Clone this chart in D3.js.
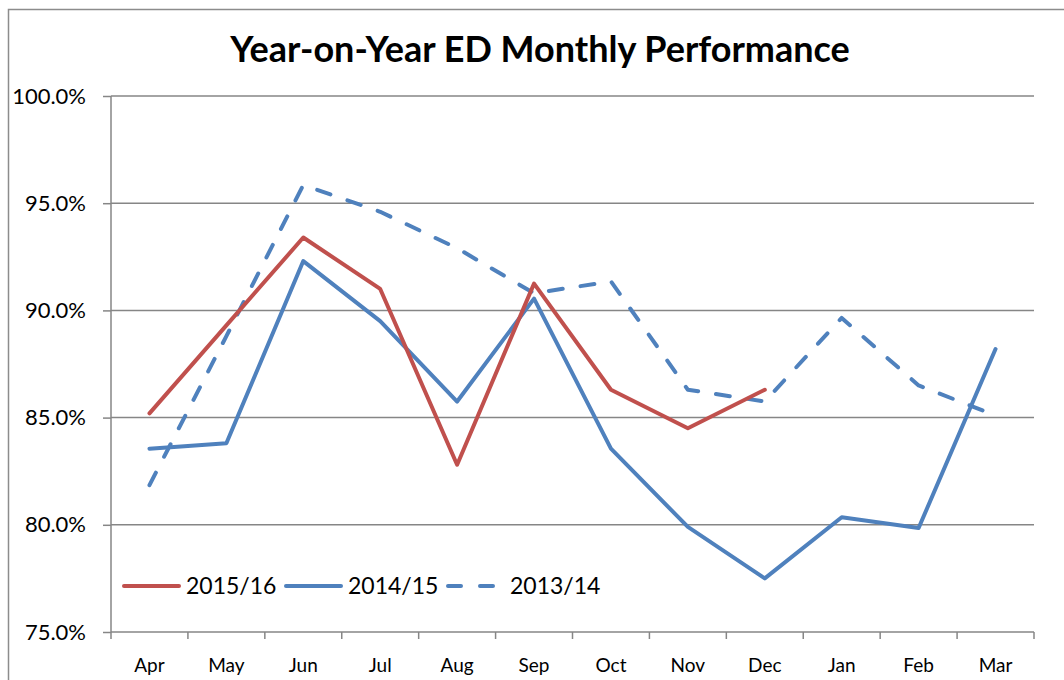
<!DOCTYPE html>
<html>
<head>
<meta charset="utf-8">
<script src="https://cdn.jsdelivr.net/npm/d3@7"></script>
<style>
  body { margin: 0; background: #fff; }
  svg { font-family: Lato, "Open Sans", sans-serif; }
</style>
</head>
<body>
<div id="chart"></div>
<script>
const months = ["Apr", "May", "Jun", "Jul", "Aug", "Sep", "Oct", "Nov", "Dec", "Jan", "Feb", "Mar"];
const fy1516 = [85.2, 89.3, 93.4, 91.0, 82.8, 91.25, 86.3, 84.5, 86.3];
const fy1415 = [83.55, 83.8, 92.3, 89.5, 85.75, 90.55, 83.55, 79.9, 77.5, 80.35, 79.85, 88.2];
const fy1314 = [81.85, 88.8, 95.85, 94.6, 92.9, 90.8, 91.35, 86.3, 85.75, 89.65, 86.5, 85.1];
const yTicks = [75, 80, 85, 90, 95, 100];
const seriesNames = ["2015/16", "2014/15", "2013/14"];

const W = 1064, H = 680;
const margin = { top: 96, right: 30, bottom: 48, left: 111 };

const svg = d3.select("#chart").append("svg")
  .attr("width", W)
  .attr("height", H);

// chart frame
svg.append("rect")
  .attr("x", 8.5).attr("y", 9.5)
  .attr("width", W + 20).attr("height", H + 20)
  .attr("fill", "none")
  .attr("stroke", "#8c8c8c")
  .attr("stroke-width", 1.5);

svg.append("text")
  .attr("x", 540).attr("y", 62)
  .attr("text-anchor", "middle")
  .style("font-size", "36px")
  .style("font-weight", "bold")
  .text("Year-on-Year ED Monthly Performance");

const x = d3.scaleBand().domain(months).range([margin.left, 1034]);
const y = d3.scaleLinear().domain([75, 100]).range([632, margin.top]);

// gridlines + y axis
const yAxis = svg.append("g")
  .attr("transform", `translate(${margin.left},0)`)
  .call(d3.axisLeft(y).tickValues(yTicks).tickSize(8).tickPadding(17)
    .tickFormat(d => d.toFixed(1) + "%"));
yAxis.select(".domain").remove();
yAxis.selectAll(".tick line").attr("stroke", "#868686").attr("stroke-width", 1.5);
yAxis.selectAll(".tick text").style("font-size", "22px").attr("fill", "#000")
  .attr("font-family", "Lato, sans-serif");

svg.append("g")
  .selectAll("line")
  .data(yTicks)
  .join("line")
  .attr("x1", margin.left).attr("x2", 1034)
  .attr("y1", d => y(d)).attr("y2", d => y(d))
  .attr("stroke", "#868686").attr("stroke-width", 1.5);

svg.append("line")
  .attr("x1", margin.left).attr("x2", margin.left)
  .attr("y1", y(100)).attr("y2", y(75))
  .attr("stroke", "#868686").attr("stroke-width", 1.5);

// x axis: labels centred in bands, ticks at band edges
const xAxis = svg.append("g")
  .attr("transform", `translate(0,${y(75)})`)
  .call(d3.axisBottom(x).tickSize(0).tickPadding(27));
xAxis.select(".domain").remove();
xAxis.selectAll(".tick text").style("font-size", "19px").attr("fill", "#000")
  .attr("font-family", "Lato, sans-serif");

const edges = months.map(m => x(m)).concat([x(months[months.length - 1]) + x.bandwidth()]);
svg.append("g")
  .selectAll("line")
  .data(edges)
  .join("line")
  .attr("x1", d => d).attr("x2", d => d)
  .attr("y1", y(75)).attr("y2", y(75) + 7)
  .attr("stroke", "#868686").attr("stroke-width", 1.5);

// lines
const cx = m => x(m) + x.bandwidth() / 2;
const line = d3.line()
  .x((d, i) => cx(months[i]))
  .y(d => y(d));

const series = [
  { name: seriesNames[0], values: fy1516, color: "#C0504D", dash: null },
  { name: seriesNames[1], values: fy1415, color: "#4F81BD", dash: null },
  { name: seriesNames[2], values: fy1314, color: "#4F81BD", dash: "14,18" }
];

// 2013/14 drawn at the back
series.slice().reverse().forEach(s => {
  svg.append("path")
    .datum(s.values)
    .attr("d", line)
    .attr("fill", "none")
    .attr("stroke", s.color)
    .attr("stroke-width", 4)
    .attr("stroke-linejoin", "round")
    .attr("stroke-linecap", "round")
    .attr("stroke-dasharray", s.dash);
});

// legend
const legendX = [124, 286, 448];
const legend = svg.append("g");
series.forEach((s, i) => {
  legend.append("line")
    .attr("x1", legendX[i]).attr("x2", legendX[i] + 55)
    .attr("y1", 586).attr("y2", 586)
    .attr("stroke", s.color)
    .attr("stroke-width", 4)
    .attr("stroke-linecap", "round")
    .attr("stroke-dasharray", s.dash ? "13,19" : null);
  legend.append("text")
    .attr("x", legendX[i] + 62 + (s.dash ? 0 : 0))
    .attr("y", 594)
    .style("font-size", "23px")
    .text(s.name);
});
</script>
</body>
</html>
